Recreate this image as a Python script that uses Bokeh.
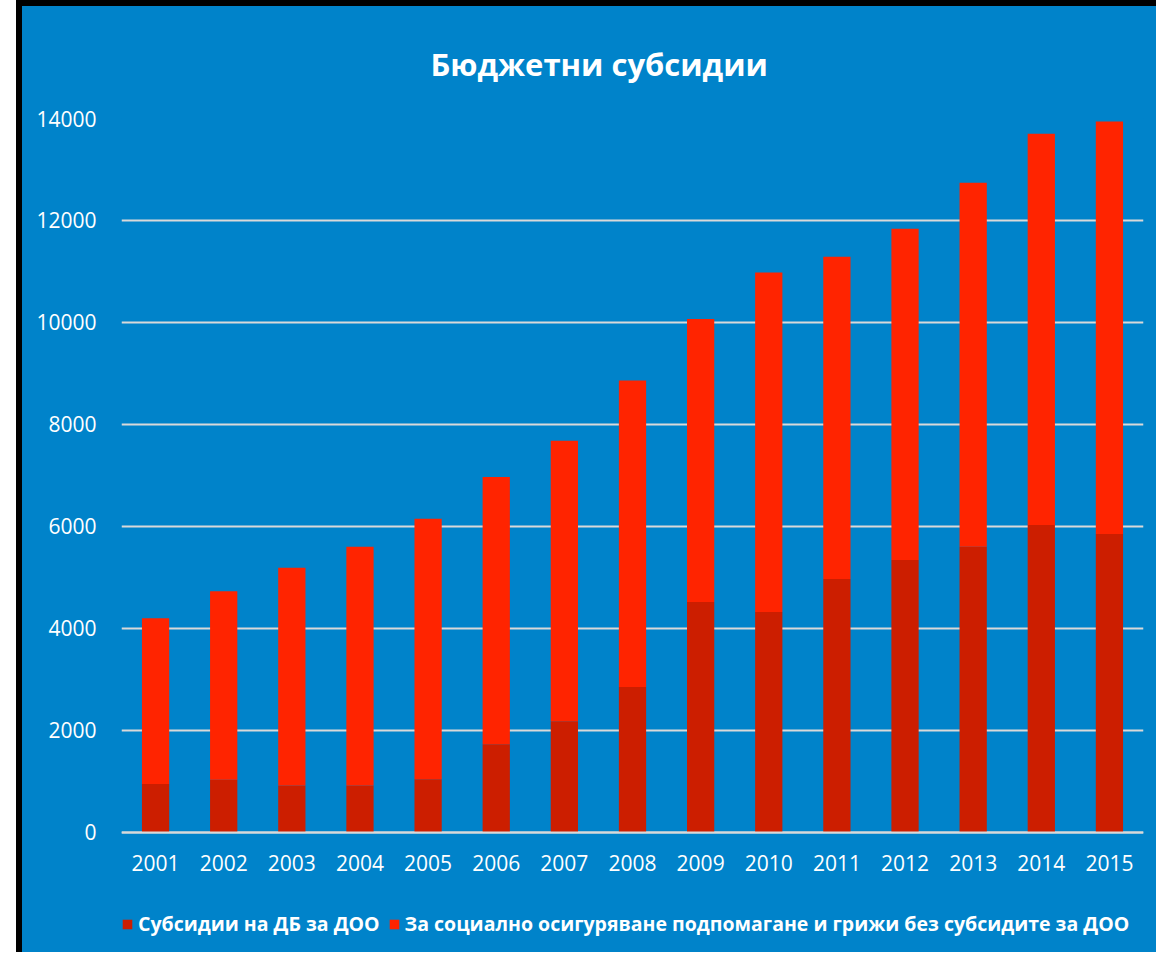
from bokeh.plotting import figure
from bokeh.models import ColumnDataSource, Legend, LegendItem, FixedTicker, Range1d
from bokeh.embed import file_html
from bokeh.resources import INLINE

years = ["2001", "2002", "2003", "2004", "2005", "2006", "2007", "2008",
         "2009", "2010", "2011", "2012", "2013", "2014", "2015"]
subsidies_db = [950, 1030, 920, 920, 1040, 1730, 2180, 2850,
                4520, 4320, 4970, 5340, 5600, 6030, 5850]
totals = [4200, 4730, 5190, 5600, 6150, 6970, 7680, 8860,
          10070, 10980, 11290, 11840, 12740, 13700, 13940]
social_other = [t - s for t, s in zip(totals, subsidies_db)]
y_ticks = [0, 2000, 4000, 6000, 8000, 10000, 12000, 14000]

series_names = ["Субсидии на ДБ за ДОО",
                "За социално осигуряване подпомагане и грижи без субсидите за ДОО"]
title_text = "Бюджетни субсидии"

BLUE = "#0083CA"
DARK = "#CC1E00"
RED = "#FF2400"
GRID = "#D9D9D9"
FONT = "Open Sans"

src = ColumnDataSource(dict(year=years, db=subsidies_db, other=social_other))

# frame runs to the canvas bottom so the legend can sit inside it;
# the x axis is pinned at y = 0
p = figure(x_range=years, y_range=Range1d(-2474, 14000), width=1140, height=952,
           output_backend="svg", toolbar_location=None,
           min_border_left=99, min_border_right=19,
           min_border_top=105, min_border_bottom=0)
p.styles = {"border-left": "6px solid black", "border-top": "6px solid black",
            "background-color": BLUE, "margin-left": "16px"}

p.background_fill_color = BLUE
p.border_fill_color = BLUE
p.outline_line_color = None

p.title.text = title_text
p.title.align = "left"
p.title.offset = 309
p.title.standoff = 68
p.title.text_color = "white"
p.title.text_font = FONT
p.title.text_font_style = "bold"
p.title.text_font_size = "31px"

rs = p.vbar_stack(["db", "other"], x="year", width=0.4, source=src,
                  color=[DARK, RED], line_color=None)

p.xgrid.grid_line_color = None
p.ygrid.grid_line_color = GRID
p.ygrid.grid_line_width = 2

p.yaxis.ticker = FixedTicker(ticks=y_ticks)
p.yaxis.bounds = (0, 14000)
p.yaxis.axis_line_color = None
p.yaxis.major_tick_line_color = None
p.yaxis.minor_tick_line_color = None
p.yaxis.major_label_text_color = "white"
p.yaxis.major_label_text_font = FONT
p.yaxis.major_label_text_font_size = "21px"
p.yaxis.major_label_standoff = 19

p.xaxis.fixed_location = 0
p.xaxis.axis_line_color = GRID
p.xaxis.axis_line_width = 2
p.xaxis.major_tick_line_color = None
p.xaxis.minor_tick_line_color = None
p.xaxis.major_label_text_color = "white"
p.xaxis.major_label_text_font = FONT
p.xaxis.major_label_text_font_size = "21px"
p.xaxis.major_label_standoff = 17

legend = Legend(items=[LegendItem(label=series_names[0], renderers=[rs[0]]),
                       LegendItem(label=series_names[1], renderers=[rs[1]])],
                orientation="horizontal", location=(0, 21),
                background_fill_alpha=0, border_line_color=None,
                label_text_color="white", label_text_font=FONT,
                label_text_font_style="bold", label_text_font_size="19.5px",
                glyph_width=12, glyph_height=12, label_standoff=5, spacing=8,
                padding=0, margin=0)
p.add_layout(legend, "center")

open("out.html", "w").write(file_html(p, INLINE))
